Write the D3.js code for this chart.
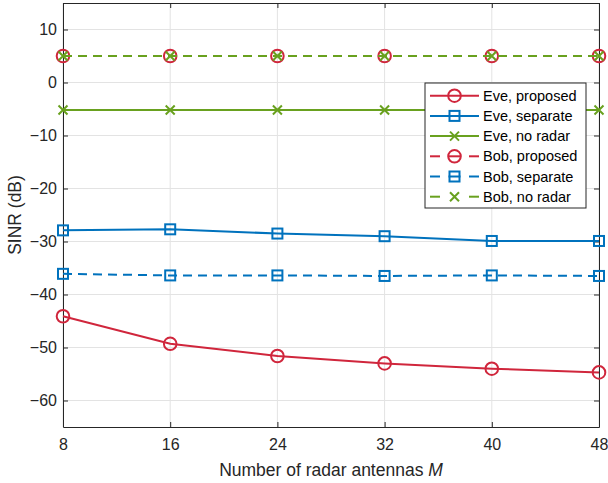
<!DOCTYPE html>
<html><head><meta charset="utf-8">
<script src="https://cdn.jsdelivr.net/npm/d3@7"></script>
<style>body{margin:0;background:#fff}svg{display:block}text{font-family:"Liberation Sans",Arial,sans-serif}</style>
</head><body>
<script>
const antennas = [8, 16, 24, 32, 40, 48];
const eveProposed = [-44.1, -49.3, -51.6, -53.0, -54.0, -54.7];
const eveSeparate = [-27.9, -27.7, -28.5, -29.0, -29.9, -29.9];
const eveNoRadar = [-5.2, -5.2, -5.2, -5.2, -5.2, -5.2];
const bobProposed = [5.0, 5.0, 5.0, 5.0, 5.0, 5.0];
const bobSeparate = [-36.1, -36.4, -36.4, -36.5, -36.4, -36.5];
const bobNoRadar = [5.0, 5.0, 5.0, 5.0, 5.0, 5.0];
const yTicks = [-60, -50, -40, -30, -20, -10, 0, 10];
const seriesNames = ["Eve, proposed", "Eve, separate", "Eve, no radar", "Bob, proposed", "Bob, separate", "Bob, no radar"];

const W = 608, H = 483;
const m = {l: 63, r: 9, t: 3, b: 56};
const svg = d3.select("body").append("svg").attr("width", W).attr("height", H);
const x = d3.scaleLinear().domain([8, 48]).range([m.l, W - m.r]);
const y = d3.scaleLinear().domain([-65, 15]).range([H - m.b, m.t]);

const red = "#D0263C", blue = "#0072BD", green = "#69A11F";
const series = [
  {name: seriesNames[0], v: eveProposed, c: red, dash: null, mk: "o"},
  {name: seriesNames[1], v: eveSeparate, c: blue, dash: null, mk: "s"},
  {name: seriesNames[2], v: eveNoRadar, c: green, dash: null, mk: "x"},
  {name: seriesNames[3], v: bobProposed, c: red, dash: "9,6", mk: "o"},
  {name: seriesNames[4], v: bobSeparate, c: blue, dash: "9,6", mk: "s"},
  {name: seriesNames[5], v: bobNoRadar, c: green, dash: "9,6", mk: "x"}
];

// grid
const g = svg.append("g");
g.selectAll(".gx").data(antennas).enter().append("line")
  .attr("x1", d => x(d)).attr("x2", d => x(d)).attr("y1", y(15)).attr("y2", y(-65))
  .attr("stroke", "#e3e3e3").attr("stroke-width", 1);
g.selectAll(".gy").data(yTicks).enter().append("line")
  .attr("y1", d => y(d)).attr("y2", d => y(d)).attr("x1", x(8)).attr("x2", x(48))
  .attr("stroke", "#e3e3e3").attr("stroke-width", 1);

// axes
const axCol = "#262626";
const xa = svg.append("g").attr("transform", `translate(0,${y(-65)})`)
  .call(d3.axisBottom(x).tickValues(antennas).tickSizeInner(-5).tickSizeOuter(0).tickPadding(12));
const xt = svg.append("g").attr("transform", `translate(0,${y(15)})`)
  .call(d3.axisTop(x).tickValues(antennas).tickSizeInner(-5).tickSizeOuter(0).tickFormat(""));
const ya = svg.append("g").attr("transform", `translate(${x(8)},0)`)
  .call(d3.axisLeft(y).tickValues(yTicks).tickSizeInner(-5).tickSizeOuter(0).tickPadding(6).tickFormat(d3.format("d")));
const yr = svg.append("g").attr("transform", `translate(${x(48)},0)`)
  .call(d3.axisRight(y).tickValues(yTicks).tickSizeInner(-5).tickSizeOuter(0).tickFormat(""));
[xa, xt, ya, yr].forEach(a => {
  a.selectAll("path").attr("stroke", axCol).attr("stroke-width", 1);
  a.selectAll("line").attr("stroke", axCol);
  a.selectAll("text").attr("fill", "#262626").style("font-size", "16px").style("font-family", "Liberation Sans, Arial, sans-serif");
});
xa.selectAll("text").attr("dy", "0.71em");

// lines and markers
function marker(sel, mk, c) {
  if (mk === "o") sel.append("circle").attr("r", 6.3).attr("fill", "none").attr("stroke", c).attr("stroke-width", 2);
  else if (mk === "s") sel.append("rect").attr("x", -5).attr("y", -5).attr("width", 10).attr("height", 10).attr("fill", "none").attr("stroke", c).attr("stroke-width", 2);
  else sel.append("path").attr("d", "M-4.5,-4.5L4.5,4.5M-4.5,4.5L4.5,-4.5").attr("stroke", c).attr("stroke-width", 2).attr("fill", "none");
}
const line = d3.line().x((d, i) => x(antennas[i])).y(d => y(d));
const plot = svg.append("g");
series.forEach(s => {
  const sg = plot.append("g");
  sg.append("path").attr("d", line(s.v)).attr("fill", "none").attr("stroke", s.c).attr("stroke-width", 2)
    .attr("stroke-dasharray", s.dash);
  s.v.forEach((v, i) => {
    const mg = sg.append("g").attr("transform", `translate(${x(antennas[i])},${y(v)})`);
    marker(mg, s.mk, s.c);
  });
});

// legend
const lg = svg.append("g").attr("transform", "translate(425,83)");
lg.append("rect").attr("width", 161).attr("height", 125).attr("fill", "#fff").attr("stroke", axCol).attr("stroke-width", 1);
series.forEach((s, i) => {
  const yy = 12.7 + i * 20.2;
  const row = lg.append("g").attr("transform", `translate(0,${yy})`);
  if (s.dash) {
    row.append("line").attr("x1", 5).attr("x2", 15).attr("y1", 0).attr("y2", 0).attr("stroke", s.c).attr("stroke-width", 2);
    row.append("line").attr("x1", 44).attr("x2", 54).attr("y1", 0).attr("y2", 0).attr("stroke", s.c).attr("stroke-width", 2);
  } else {
    row.append("line").attr("x1", 5).attr("x2", 54).attr("y1", 0).attr("y2", 0).attr("stroke", s.c).attr("stroke-width", 2);
  }
  const mg = row.append("g").attr("transform", "translate(29.5,0)");
  marker(mg, s.mk, s.c);
  if (s.dash && s.mk !== "x") mg.append("line").attr("x1", -6).attr("x2", 6).attr("stroke", s.c).attr("stroke-width", 2);
  row.append("text").attr("x", 58).attr("y", 0).attr("dy", "0.35em").style("font-size", "14.5px").attr("fill", "#000").text(s.name);
});

// labels
svg.append("text").attr("transform", `translate(21,${(y(15) + y(-65)) / 2}) rotate(-90)`)
  .attr("text-anchor", "middle").style("font-size", "17.5px").attr("fill", "#262626").text("SINR (dB)");
const xl = svg.append("text").attr("x", (x(8) + x(48)) / 2).attr("y", 476).attr("text-anchor", "middle")
  .style("font-size", "17.5px").attr("fill", "#262626");
xl.append("tspan").text("Number of radar antennas ");
xl.append("tspan").style("font-style", "italic").text("M");
</script>
</body></html>
